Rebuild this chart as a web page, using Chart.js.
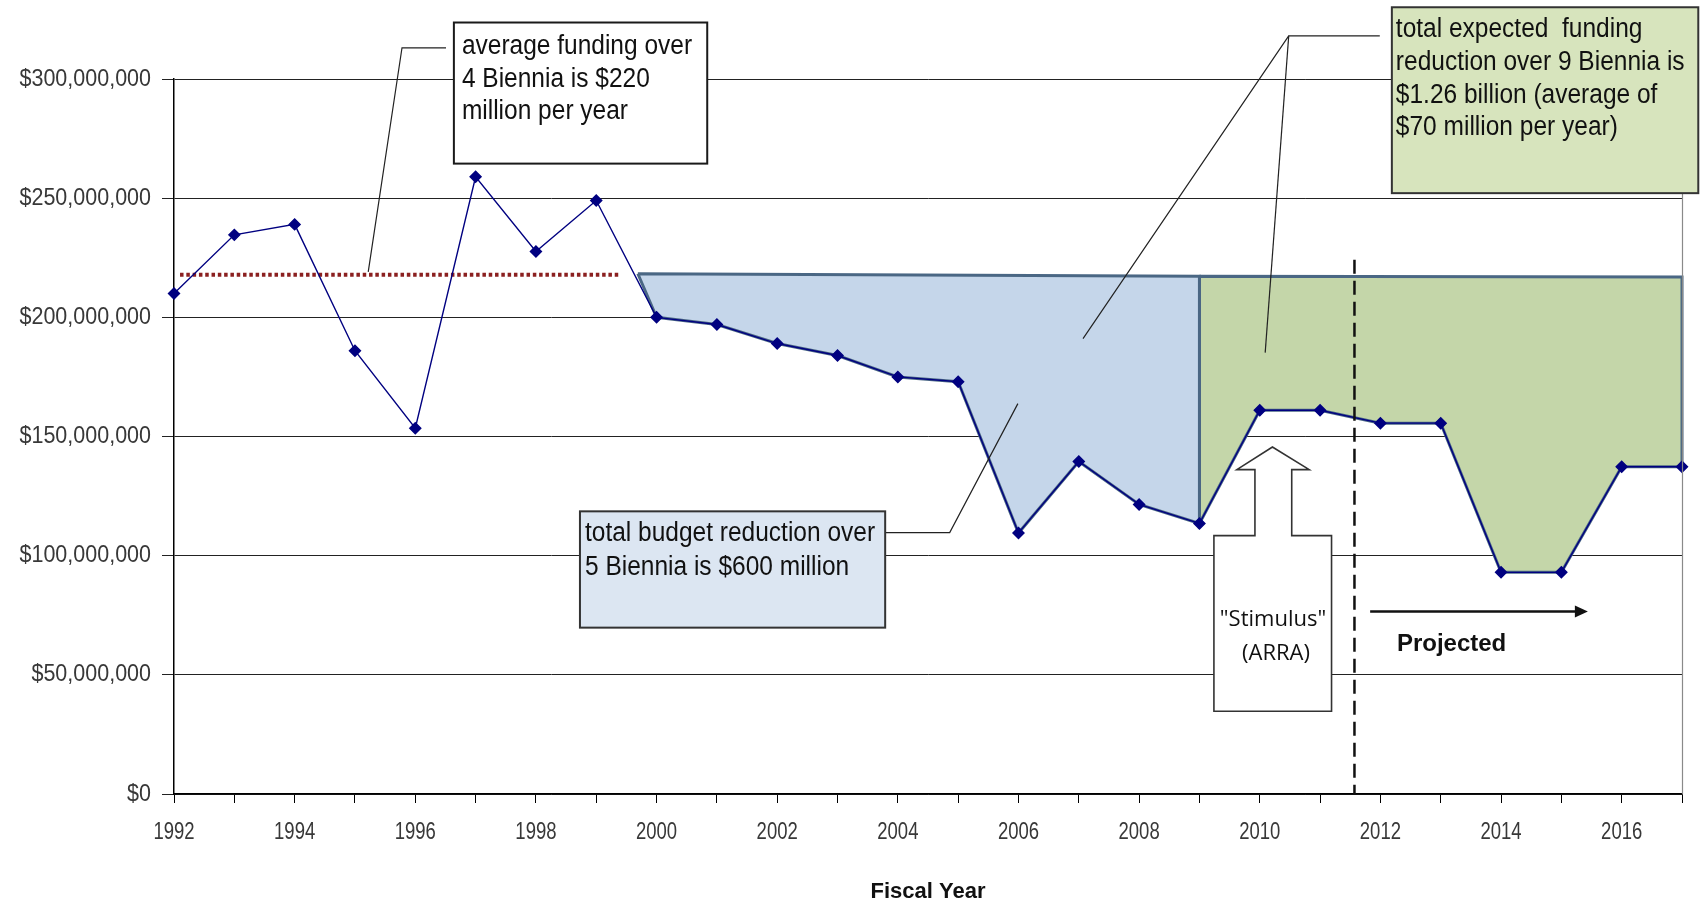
<!DOCTYPE html>
<html>
<head>
<meta charset="utf-8">
<script src="https://cdn.jsdelivr.net/npm/chart.js@4"></script>
<style>
  html, body { margin: 0; padding: 0; background: #ffffff; }
  #wrap { width: 1704px; height: 906px; }
</style>
</head>
<body>
<div id="wrap"><canvas id="c" width="1704" height="906"></canvas></div>
<script>
// ---- data ----
const years = [1992,1993,1994,1995,1996,1997,1998,1999,2000,2001,2002,2003,2004,2005,2006,2007,2008,2009,2010,2011,2012,2013,2014,2015,2016,2017];
const funding = [210.0e6,234.6e6,239.0e6,186.0e6,153.5e6,259.0e6,227.6e6,249.0e6,200.0e6,197.0e6,189.0e6,184.0e6,175.0e6,173.0e6,109.5e6,139.5e6,121.5e6,113.5e6,161.0e6,161.0e6,155.6e6,155.6e6,93.0e6,93.0e6,137.3e6,137.3e6];
const avgYears = [1992.1, 1999.38];
const avgValues = [217.9e6, 217.9e6];
const reductionTopYears = [1999.69, 2009];
const reductionTopValues = [218.3e6, 217.2e6];
const reductionRange = [2000, 2009];
const expectedTopYears = [2009, 2017];
const expectedTopValues = [217.2e6, 216.9e6];
const expectedRange = [2009, 2017];
const yTicks = [0, 50e6, 100e6, 150e6, 200e6, 250e6, 300e6];

// build closed polygons from the arrays
function polygon(topYears, topValues, range) {
  const pts = topYears.map((y, i) => ({x: y, y: topValues[i]}));
  for (let i = years.length - 1; i >= 0; i--) {
    if (years[i] >= range[0] && years[i] <= range[1]) pts.push({x: years[i], y: funding[i]});
  }
  pts.push({x: topYears[0], y: topValues[0]});
  return pts;
}

// ---- annotation layout (not data) ----
const callouts = [
  {x0:1996.64, x1:2000.84, y0:323.7e6, y1:264.5e6, fill:'#FFFFFF', stroke:'#1a1a1a', pad:8, first:24.5, step:32.5,
   lines:['average funding over','4 Biennia is $220','million per year']},
  {x0:1998.73, x1:2003.79, y0:118.6e6, y1:69.8e6, fill:'#DCE6F2', stroke:'#333333', pad:5, first:22, step:34,
   lines:['total budget reduction over','5 Biennia is $600 million']},
  {x0:2012.19, x1:2017.27, y0:330.1e6, y1:252.1e6, fill:'#D7E4BD', stroke:'#333333', pad:4, first:22.5, step:32.7,
   lines:['total expected  funding','reduction over 9 Biennia is','$1.26 billion (average of','$70 million per year)']}
];
const leaders = [
  [[1996.51,313.1e6],[1995.78,313.1e6],[1995.22,219.1e6]],
  [[2003.79,109.7e6],[2004.86,109.7e6],[2005.99,163.8e6]],
  [[2011.99,318.1e6],[2010.48,318.1e6],[2007.07,191.1e6]],
  [[2010.48,318.1e6],[2010.09,185.2e6]]
];
const stimulus = {rx0:2009.24, rx1:2011.19, ry0:108.4e6, ry1:34.7e6, sx0:2009.92, sx1:2010.53, sy:136.1e6,
  hx0:2009.62, hx1:2010.82, tipX:2010.21, tipY:145.6e6, textX:2010.22, textY:[73.2e6, 58.9e6]};
const projectedLine = {year:2011.57, top:224.2e6};
const projectedArrow = {x0:2011.83, x1:2015.44, y:76.6e6};
const projectedText = {x:2013.18, y:62.7e6};

const SANS = '"Liberation Sans", Arial, sans-serif';
const yLabel = v => '$' + Number(v).toLocaleString('en-US');
const xLabel = v => (v % 2 === 0 ? String(v) : '');

// tick labels: drawn from the scales' own ticks, slightly tall like the original
const tickLabels = {
  id: 'tickLabels',
  afterDraw(chart) {
    const ctx = chart.ctx, xs = chart.scales.x, ys = chart.scales.y;
    ctx.save();
    ctx.fillStyle = '#383838';
    ctx.textBaseline = 'middle';
    ctx.font = '21.5px ' + SANS; ctx.textAlign = 'right';
    ys.ticks.forEach(t => {
      ctx.save();
      ctx.translate(ys.right - 12 - 11, ys.getPixelForValue(t.value));
      ctx.scale(1, 1.1);
      ctx.fillText(yLabel(t.value), 0, 0);
      ctx.restore();
    });
    ctx.font = '18.5px ' + SANS; ctx.textAlign = 'center';
    xs.ticks.forEach(t => {
      const s = xLabel(t.value);
      if (!s) return;
      ctx.save();
      ctx.translate(xs.getPixelForValue(t.value), xs.top + 39);
      ctx.scale(1, 1.25);
      ctx.fillText(s, 0, 0);
      ctx.restore();
    });
    ctx.restore();
  }
};

const annot = {
  id: 'annot',
  afterDraw(chart) {
    const ctx = chart.ctx, xs = chart.scales.x, ys = chart.scales.y;
    const X = v => xs.getPixelForValue(v), Y = v => ys.getPixelForValue(v);
    const area = chart.chartArea;
    ctx.save();
    // right border of plot area
    ctx.strokeStyle = '#8a8a8a'; ctx.lineWidth = 1.2;
    ctx.beginPath(); ctx.moveTo(area.right + 0.5, area.top); ctx.lineTo(area.right + 0.5, area.bottom); ctx.stroke();

    // projected dashed vertical line
    ctx.strokeStyle = '#111'; ctx.lineWidth = 2.5; ctx.setLineDash([14, 7]);
    ctx.beginPath(); ctx.moveTo(X(projectedLine.year), Y(projectedLine.top)); ctx.lineTo(X(projectedLine.year), Y(0)); ctx.stroke();
    ctx.setLineDash([]);

    // leader lines
    ctx.strokeStyle = '#222'; ctx.lineWidth = 1.2;
    leaders.forEach(l => {
      ctx.beginPath();
      l.forEach((p, i) => i ? ctx.lineTo(X(p[0]), Y(p[1])) : ctx.moveTo(X(p[0]), Y(p[1])));
      ctx.stroke();
    });

    // callout boxes
    callouts.forEach(c => {
      const x0 = X(c.x0), x1 = X(c.x1), y0 = Y(c.y0), y1 = Y(c.y1);
      ctx.fillStyle = c.fill; ctx.fillRect(x0, y0, x1 - x0, y1 - y0);
      ctx.strokeStyle = c.stroke; ctx.lineWidth = 2; ctx.strokeRect(x0, y0, x1 - x0, y1 - y0);
      ctx.fillStyle = '#111'; ctx.font = '24.5px ' + SANS;
      ctx.textAlign = 'left'; ctx.textBaseline = 'middle';
      c.lines.forEach((t, i) => {
        ctx.save();
        ctx.translate(x0 + c.pad, y0 + c.first + i * c.step);
        ctx.scale(1, 1.1);
        ctx.fillText(t, 0, 0);
        ctx.restore();
      });
    });

    // stimulus block arrow
    const s = stimulus;
    ctx.beginPath();
    ctx.moveTo(X(s.rx0), Y(s.ry0));
    ctx.lineTo(X(s.sx0), Y(s.ry0));
    ctx.lineTo(X(s.sx0), Y(s.sy));
    ctx.lineTo(X(s.hx0), Y(s.sy));
    ctx.lineTo(X(s.tipX), Y(s.tipY));
    ctx.lineTo(X(s.hx1), Y(s.sy));
    ctx.lineTo(X(s.sx1), Y(s.sy));
    ctx.lineTo(X(s.sx1), Y(s.ry0));
    ctx.lineTo(X(s.rx1), Y(s.ry0));
    ctx.lineTo(X(s.rx1), Y(s.ry1));
    ctx.lineTo(X(s.rx0), Y(s.ry1));
    ctx.closePath();
    ctx.fillStyle = '#ffffff'; ctx.fill();
    ctx.strokeStyle = '#333'; ctx.lineWidth = 1.6; ctx.stroke();
    ctx.fillStyle = '#111'; ctx.font = '22px "Open Sans", "DejaVu Sans", sans-serif';
    ctx.textAlign = 'center'; ctx.textBaseline = 'middle';
    ctx.fillText('"Stimulus"', X(s.textX), Y(s.textY[0]));
    ctx.fillText('(ARRA)', X(s.textX) + 3, Y(s.textY[1]));

    // projected arrow
    const ax0 = X(projectedArrow.x0), ax1 = X(projectedArrow.x1), ay = Y(projectedArrow.y);
    ctx.strokeStyle = '#111'; ctx.lineWidth = 2.5;
    ctx.beginPath(); ctx.moveTo(ax0, ay); ctx.lineTo(ax1 - 8, ay); ctx.stroke();
    ctx.fillStyle = '#111';
    ctx.beginPath(); ctx.moveTo(ax1, ay); ctx.lineTo(ax1 - 13, ay - 6); ctx.lineTo(ax1 - 13, ay + 6); ctx.closePath(); ctx.fill();
    ctx.font = 'bold 24px ' + SANS;
    ctx.textAlign = 'center'; ctx.textBaseline = 'middle';
    ctx.fillText('Projected', X(projectedText.x), Y(projectedText.y));
    ctx.restore();
  }
};

new Chart(document.getElementById('c'), {
  type: 'line',
  data: {
    datasets: [
      {
        label: 'Funding',
        data: years.map((y, i) => ({x: y, y: funding[i]})),
        borderColor: '#000080', borderWidth: 1.4,
        pointStyle: 'rectRot', pointRadius: 5.5, pointBackgroundColor: '#000080', pointBorderColor: '#000080',
        tension: 0, order: 0, fill: false, clip: false
      },
      {
        label: 'Average',
        data: avgYears.map((y, i) => ({x: y, y: avgValues[i]})),
        borderColor: '#8B2020', borderWidth: 4, borderDash: [3.5, 2.8], borderCapStyle: 'butt',
        pointRadius: 0, tension: 0, order: 1, fill: false
      },
      {
        label: 'Reduction',
        data: polygon(reductionTopYears, reductionTopValues, reductionRange),
        borderColor: '#4A6784', borderWidth: 3, backgroundColor: '#C5D6EA',
        pointRadius: 0, tension: 0, order: 2, fill: 'shape', borderJoinStyle: 'miter', clip: false
      },
      {
        label: 'Expected',
        data: polygon(expectedTopYears, expectedTopValues, expectedRange),
        borderColor: '#4A6784', borderWidth: 3, backgroundColor: '#C4D6A9',
        pointRadius: 0, tension: 0, order: 3, fill: 'shape', borderJoinStyle: 'miter', clip: false
      }
    ]
  },
  options: {
    responsive: false,
    animation: false,
    devicePixelRatio: 1,
    layout: { padding: { left: 0, right: 22, top: 79, bottom: 0 } },
    plugins: { legend: { display: false }, tooltip: { enabled: false } },
    scales: {
      x: {
        type: 'linear', min: years[0], max: years[years.length - 1],
        afterFit(scale) { scale.height = 112; },
        grid: { display: true, drawOnChartArea: false, drawTicks: true, tickLength: 9, color: '#000' },
        border: { display: true, color: '#000', width: 1.5 },
        ticks: { display: false, stepSize: 1, autoSkip: false, maxRotation: 0, callback: xLabel },
        title: { display: true, text: 'Fiscal Year', color: '#111',
          font: { size: 22, weight: 'bold', family: SANS },
          padding: { top: 0, bottom: 1 } }
      },
      y: {
        type: 'linear', min: 0, max: 300e6, z: 1,
        afterFit(scale) { scale.width = 174; },
        afterBuildTicks(scale) { scale.ticks = yTicks.map(v => ({value: v})); },
        grid: { color: '#222', lineWidth: 1, tickLength: 12, drawTicks: true },
        border: { display: true, color: '#000', width: 1.5 },
        ticks: { display: false, callback: yLabel }
      }
    }
  },
  plugins: [tickLabels, annot]
});
</script>
</body>
</html>
